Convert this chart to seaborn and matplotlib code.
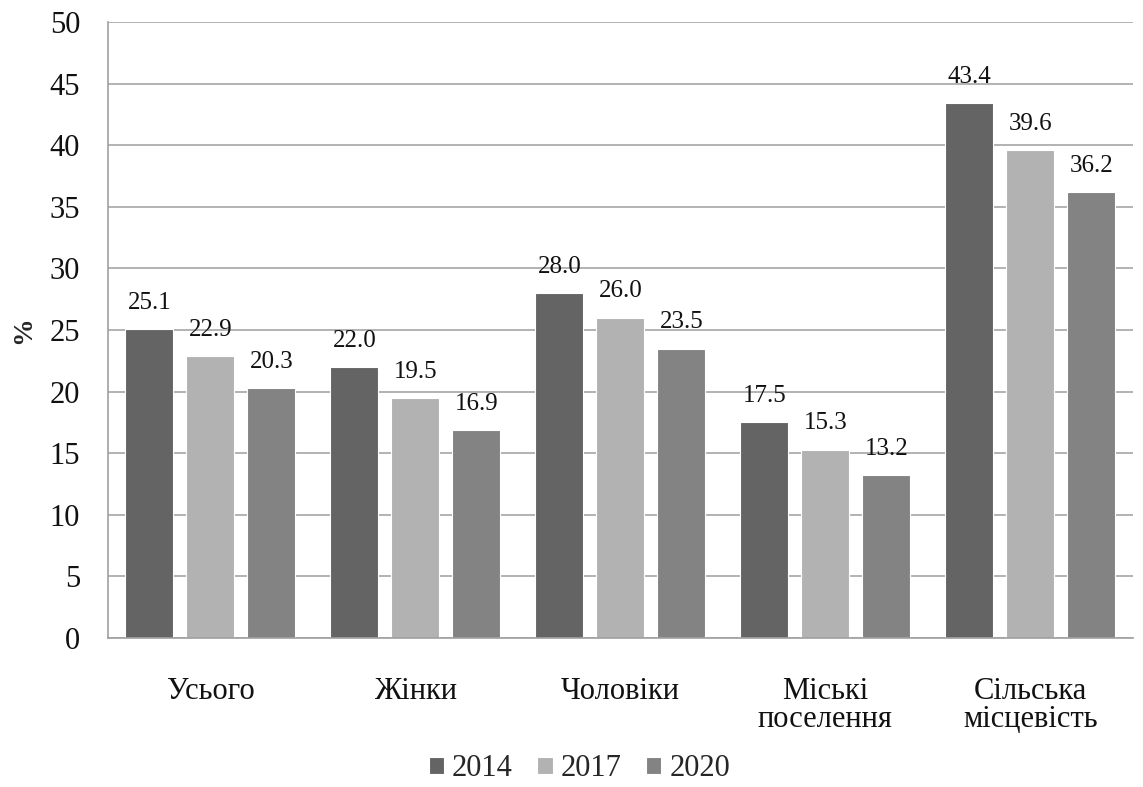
import matplotlib
matplotlib.use("Agg")
import matplotlib.pyplot as plt
import seaborn as sns
import pandas as pd

categories = ["Усього", "Жінки", "Чоловіки", "Міські\nпоселення", "Сільська\nмісцевість"]
years = ["2014", "2017", "2020"]
values_2014 = [25.1, 22.0, 28.0, 17.5, 43.4]
values_2017 = [22.9, 19.5, 26.0, 15.3, 39.6]
values_2020 = [20.3, 16.9, 23.5, 13.2, 36.2]
colors = ["#646464", "#b2b2b2", "#838383"]

rows = []
for yr, vals in zip(years, [values_2014, values_2017, values_2020]):
    for c, v in zip(categories, vals):
        rows.append({"cat": c, "year": yr, "val": v})
df = pd.DataFrame(rows)

sns.set_theme(style="white")
plt.rcParams["font.family"] = ["Liberation Serif", "DejaVu Serif"]

fig = plt.figure(figsize=(11.43, 7.87), dpi=100)
ax = fig.add_axes([0.0945, 0.1893, 0.8965, 0.7827])

sns.barplot(data=df, x="cat", y="val", hue="year", order=categories, hue_order=years,
            palette=colors, width=0.893, gap=0.213, ax=ax, errorbar=None,
            edgecolor="white", linewidth=0.8, saturation=1)

for cont in ax.containers:
    ax.bar_label(cont, fmt="%.1f", padding=11, fontsize=18, color="#111111")

ax.set_ylim(0, 50)
ax.set_yticks(range(0, 51, 5))
ax.set_xlim(-0.5, len(categories) - 0.5)
ax.yaxis.grid(True, color="#a6a6a6", linewidth=1.2)
ax.set_axisbelow(True)
for s in ["top", "right"]:
    ax.spines[s].set_visible(False)
for s in ["left", "bottom"]:
    ax.spines[s].set_color("#a0a0a0")
    ax.spines[s].set_linewidth(1.2)
ax.tick_params(axis="both", length=0, labelsize=22, colors="#111111")
ax.tick_params(axis="x", pad=28)
ax.tick_params(axis="y", pad=20)
for lbl in ax.get_xticklabels():
    lbl.set_linespacing(0.95)
ax.set_xlabel("")
ax.set_ylabel("%", fontsize=20, fontweight="bold", labelpad=10)

ax.legend(loc="center", bbox_to_anchor=(0.46, -0.212), ncol=3, frameon=False,
          fontsize=22, handlelength=0.5, handleheight=0.5, handletextpad=0.26,
          columnspacing=0.8)

fig.savefig("out.png", dpi=100)
